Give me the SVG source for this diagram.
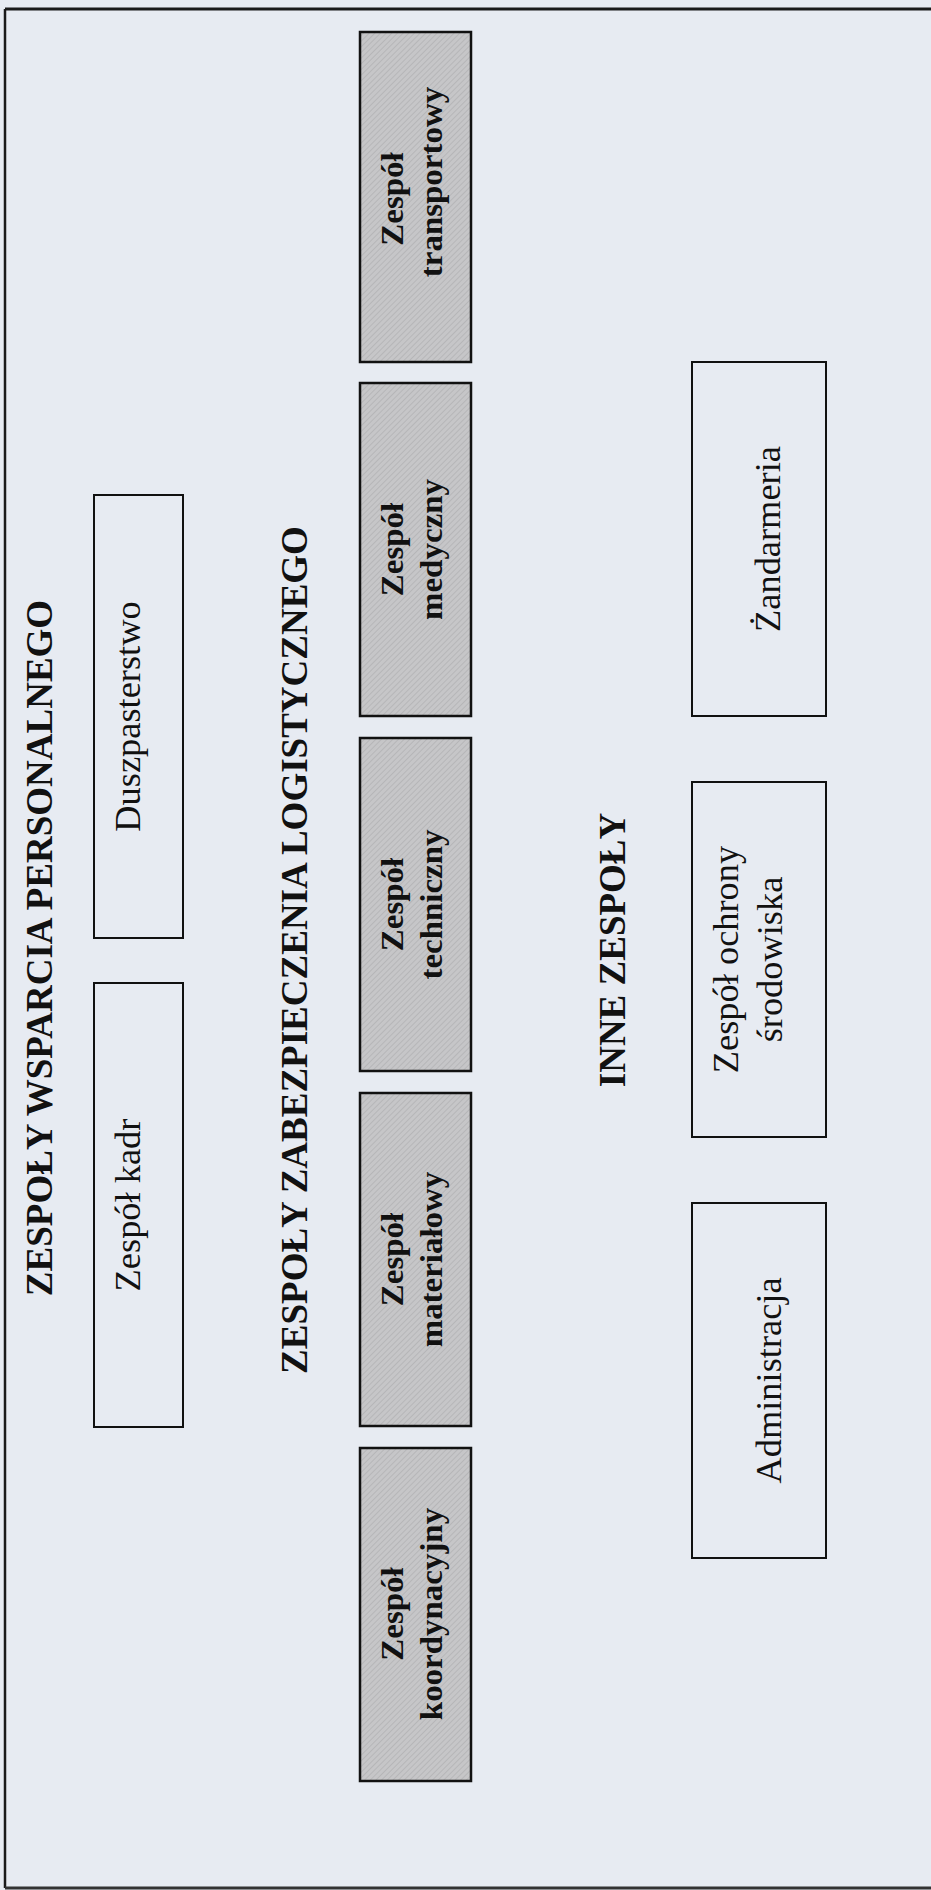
<svg xmlns="http://www.w3.org/2000/svg" width="931" height="1890" viewBox="0 0 931 1890">
  <defs>
    <pattern id="hatch" patternUnits="userSpaceOnUse" width="4" height="4" patternTransform="rotate(45)">
      <rect width="4" height="4" fill="#c6c6c8"/>
      <line x1="0" y1="0" x2="0" y2="4" stroke="#acacae" stroke-width="1.2"/>
    </pattern>
    <style>
      .bg { fill: #e7ebf2; }
      .gray { fill: url(#hatch); stroke: #111; stroke-width: 2.5; }
      .white { fill: none; stroke: #111; stroke-width: 2; }
      .hdr { font-family: "Liberation Serif", "Times New Roman", serif; font-weight: bold; font-size: 37px; fill: #111; text-anchor: middle; }
      .bt { font-family: "Liberation Serif", "Times New Roman", serif; font-weight: bold; font-size: 32px; fill: #111; text-anchor: middle; }
      .rt { font-family: "Liberation Serif", "Times New Roman", serif; font-size: 35px; fill: #111; text-anchor: middle; }
    </style>
  </defs>

  <rect class="bg" x="0" y="0" width="931" height="1890"/>
  <g id="frame">
    <line x1="5" y1="9" x2="931" y2="9" stroke="#1a1a1a" stroke-width="3"/>
    <line x1="5" y1="9" x2="5" y2="1888" stroke="#1a1a1a" stroke-width="2.5"/>
    <line x1="5" y1="1888" x2="931" y2="1888" stroke="#333" stroke-width="3"/>
  </g>

  <g id="headers">
    <text id="hdr-personal" class="hdr" transform="translate(52,948) rotate(-90)">ZESPOŁY WSPARCIA PERSONALNEGO</text>
    <text id="hdr-logistic" class="hdr" transform="translate(307,950) rotate(-90)">ZESPOŁY ZABEZPIECZENIA LOGISTYCZNEGO</text>
    <text id="hdr-other" class="hdr" transform="translate(625,950) rotate(-90)">INNE ZESPOŁY</text>
  </g>

  <g id="node-duszpasterstwo">
    <rect class="white" x="94" y="495" width="89" height="443"/>
    <text class="rt" transform="translate(140,716.5) rotate(-90) scale(1.04,1)">Duszpasterstwo</text>
  </g>
  <g id="node-kadr">
    <rect class="white" x="94" y="983" width="89" height="444"/>
    <text class="rt" transform="translate(140,1205) rotate(-90) scale(1.04,1)">Zespół kadr</text>
  </g>

  <g id="node-transportowy">
    <rect class="gray" x="360" y="32" width="111" height="330"/>
    <text class="bt" transform="translate(403,199) rotate(-90) scale(1.03,1)">Zespół</text>
    <text class="bt" transform="translate(442,182) rotate(-90) scale(1.03,1)">transportowy</text>
  </g>
  <g id="node-medyczny">
    <rect class="gray" x="360" y="383" width="111" height="333"/>
    <text class="bt" transform="translate(403,549.5) rotate(-90) scale(1.03,1)">Zespół</text>
    <text class="bt" transform="translate(442,549.5) rotate(-90) scale(1.03,1)">medyczny</text>
  </g>
  <g id="node-techniczny">
    <rect class="gray" x="360" y="738" width="111" height="333"/>
    <text class="bt" transform="translate(403,904.5) rotate(-90) scale(1.03,1)">Zespół</text>
    <text class="bt" transform="translate(442,904.5) rotate(-90) scale(1.03,1)">techniczny</text>
  </g>
  <g id="node-materialowy">
    <rect class="gray" x="360" y="1093" width="111" height="333"/>
    <text class="bt" transform="translate(403,1259.5) rotate(-90) scale(1.03,1)">Zespół</text>
    <text class="bt" transform="translate(442,1259.5) rotate(-90) scale(1.03,1)">materiałowy</text>
  </g>
  <g id="node-koordynacyjny">
    <rect class="gray" x="360" y="1448" width="111" height="333"/>
    <text class="bt" transform="translate(403,1614) rotate(-90) scale(1.03,1)">Zespół</text>
    <text class="bt" transform="translate(442,1614) rotate(-90) scale(1.03,1)">koordynacyjny</text>
  </g>

  <g id="node-zandarmeria">
    <rect class="white" x="692" y="362" width="134" height="354"/>
    <text class="rt" transform="translate(780,539) rotate(-90) scale(1.04,1)">Żandarmeria</text>
  </g>
  <g id="node-ochrona">
    <rect class="white" x="692" y="782" width="134" height="355"/>
    <text class="rt" transform="translate(738,959.5) rotate(-90) scale(1.04,1)">Zespół ochrony</text>
    <text class="rt" transform="translate(782,959.5) rotate(-90) scale(1.04,1)">środowiska</text>
  </g>
  <g id="node-administracja">
    <rect class="white" x="692" y="1203" width="134" height="355"/>
    <text class="rt" transform="translate(781,1380.5) rotate(-90) scale(1.04,1)">Administracja</text>
  </g>

  <g id="connectors"/>
</svg>
